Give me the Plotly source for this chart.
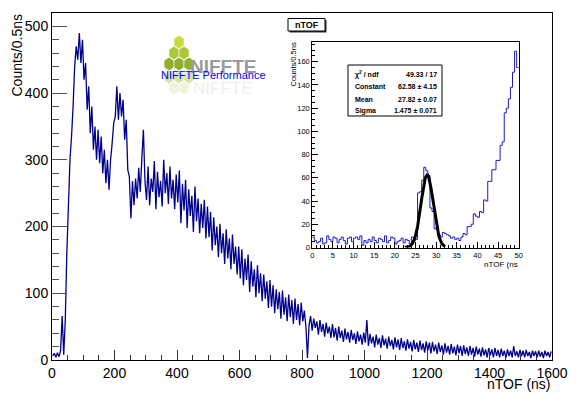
import plotly.graph_objects as go
import numpy as np

# main spectrum, counts per bin, one row per 100 ns (5 ns steps)
main_counts = [
    6, 10, 4, 11, 5, 14, 66, 8, 60, 160, 230, 300, 335, 380, 440, 470, 450, 490, 445, 480,
    420, 445, 375, 410, 340, 380, 315, 350, 300, 345, 295, 335, 280, 315, 265, 300, 255, 300, 325, 355,
    365, 410, 360, 400, 365, 390, 330, 360, 285, 275, 212, 268, 232, 272, 242, 288, 252, 302, 345, 268,
    240, 290, 232, 272, 252, 298, 226, 282, 244, 268, 230, 300, 250, 280, 234, 290, 242, 270, 226, 278,
    236, 284, 205, 264, 224, 270, 198, 256, 216, 246, 192, 260, 208, 242, 190, 234, 198, 240, 182, 230,
    184, 222, 164, 214, 172, 200, 154, 204, 160, 190, 144, 196, 152, 182, 136, 188, 144, 170, 128, 170,
    122, 166, 112, 152, 120, 158, 102, 148, 110, 136, 94, 142, 100, 130, 88, 128, 92, 118, 78, 120,
    80, 112, 70, 106, 76, 102, 62, 104, 68, 94, 58, 98, 64, 90, 54, 92, 60, 84, 52, 86,
    58, 74, 50, 3, 52, 66, 44, 62, 48, 58, 38, 60, 42, 54, 35, 56, 40, 50, 33, 54,
    34, 48, 29, 50, 33, 44, 27, 47, 31, 42, 26, 45, 30, 40, 24, 43, 28, 38, 23, 41,
    26, 60, 21, 39, 25, 35, 19, 38, 23, 33, 18, 37, 22, 32, 17, 35, 21, 30, 16, 34,
    19, 31, 15, 33, 18, 28, 14, 31, 17, 27, 13, 30, 16, 26, 12, 29, 15, 25, 11, 28,
    14, 26, 10, 27, 13, 23, 9, 26, 12, 22, 8, 25, 11, 21, 8, 24, 10, 20, 7, 23,
    10, 21, 6, 22, 9, 19, 6, 21, 8, 18, 5, 20, 8, 17, 5, 19, 7, 16, 4, 18,
    7, 16, 4, 18, 6, 15, 4, 17, 6, 14, 3, 16, 6, 14, 4, 21, 6, 13, 4, 15,
    6, 14, 4, 15, 6, 12, 3, 14, 6, 13, 4, 14, 5, 12, 3, 14, 6, 12, 4, 13,
]
main_step = 5

# inset: first 50 ns, 0.5 ns bins
inset_counts = [
    9, 6, 4, 5, 8, 3, 4, 10, 7, 5, 9, 8, 4, 7, 9, 6, 3, 8, 9, 5,
    8, 9, 7, 10, 2, 6, 4, 7, 5, 9, 6, 4, 8, 7, 5, 10, 4, 6, 9, 8,
    3, 5, 6, 8, 4, 7, 6, 3, 9, 6, 7, 47, 48, 58, 69, 66, 62, 34, 31, 16,
    18, 11, 9, 13, 12, 11, 10, 8, 9, 7, 8, 6, 9, 12, 11, 18, 18, 20, 29, 27,
    26, 31, 30, 41, 40, 57, 57, 67, 67, 75, 75, 88, 91, 116, 120, 128, 138, 151, 169, 155,
]
inset_step = 0.5

# gaussian fit shown in the stats box
fit_const, fit_mean, fit_sigma = 62.58, 27.82, 1.475
fit_lo, fit_hi = 22.4, 32.2
stats_rows = [("\u03c7<sup>2</sup> / ndf", "49.33 / 17"),
              ("Constant", "62.58 \u00b1 4.15"),
              ("Mean", "27.82 \u00b1 0.07"),
              ("Sigma", "1.475 \u00b1 0.071")]

# the page body has an 8 px margin, so the figure is 8 px smaller on each axis
W, H = 573, 391
L, R, T, B = 44, 29, 5, 39


def px(x):
    # screen pixel -> paper fraction (plot area is 52..552 on screen)
    return (x - 52) / 500


def py(y):
    return (360 - y) / 347


fig = go.Figure()

mx = [i * main_step + main_step / 2 for i in range(len(main_counts))]
fig.add_trace(go.Scatter(x=mx, y=main_counts, mode="lines",
                         line=dict(color="#00008f", width=1.3, simplify=False), hoverinfo="none"))

ix = [i * inset_step for i in range(len(inset_counts) + 1)]
iy = list(inset_counts) + [inset_counts[-1]]
fig.add_trace(go.Scatter(x=ix, y=iy, mode="lines", line_shape="hv",
                         line=dict(color="#1a1ad0", width=1, simplify=False), hoverinfo="none",
                         xaxis="x2", yaxis="y2"))

xf = np.linspace(fit_lo, fit_hi, 120)
yf = fit_const * np.exp(-0.5 * ((xf - fit_mean) / fit_sigma) ** 2)
fig.add_trace(go.Scatter(x=xf, y=yf, mode="lines", line=dict(color="black", width=3),
                         hoverinfo="none", xaxis="x2", yaxis="y2"))

axfont = dict(family="Liberation Sans, Arial", size=14, color="black")
smfont = dict(family="Liberation Sans, Arial", size=7.5, color="black")

fig.update_layout(
    width=W, height=H, showlegend=False,
    margin=dict(l=L, r=R, t=T, b=B, pad=0),
    paper_bgcolor="white", plot_bgcolor="white",
    xaxis=dict(range=[0, 1600], tickvals=list(range(0, 1601, 200)), automargin=False,
               ticks="inside", ticklen=10, tickcolor="#333", showline=True, linecolor="black",
               mirror=True, showgrid=False, zeroline=False, tickfont=axfont,
               minor=dict(dtick=50, ticks="inside", ticklen=5, tickcolor="#333")),
    yaxis=dict(range=[0, 520], tickvals=list(range(0, 501, 100)), automargin=False,
               ticks="inside", ticklen=15, tickcolor="#555", showline=True, linecolor="black",
               mirror=True, showgrid=False, zeroline=False, tickfont=axfont,
               minor=dict(dtick=20, ticks="inside", ticklen=7, tickcolor="#555")),
    xaxis2=dict(domain=[px(312.3), px(518.7)], anchor="y2", range=[0, 50],
                tickvals=list(range(0, 51, 5)), ticks="inside", ticklen=6, tickcolor="black",
                showline=True, linecolor="black", mirror=True, showgrid=False, zeroline=False,
                tickfont=smfont,
                minor=dict(dtick=1, ticks="inside", ticklen=3, tickcolor="black")),
    yaxis2=dict(domain=[py(247.5), py(42)], anchor="x2", range=[0, 177],
                tickvals=list(range(0, 161, 20)), ticks="inside", ticklen=6, tickcolor="black",
                showline=True, linecolor="black", mirror=True, showgrid=False, zeroline=False,
                tickfont=smfont,
                minor=dict(dtick=5, ticks="inside", ticklen=3, tickcolor="black")),
)

shapes = []
ann = []


def note(text, x, y, xa="center", ya="middle", size=8, color="black", angle=0,
         family="Liberation Sans, Arial"):
    ann.append(dict(text=text, x=px(x), y=py(y), xref="paper", yref="paper",
                    xanchor=xa, yanchor=ya, showarrow=False, textangle=angle,
                    font=dict(family=family, size=size, color=color)))


def box(x0, y0, x1, y1, fill="white", line="black", width=1):
    shapes.append(dict(type="rect", xref="paper", yref="paper", x0=px(x0), x1=px(x1),
                       y0=py(y1), y1=py(y0), fillcolor=fill,
                       line=dict(color=line, width=width)))


# axis titles
note("Counts/0.5ns", 17, 12, ya="top", size=14, angle=-90)
note("nTOF (ns)", 553, 384, xa="right", size=14)
note("Counts/0.5ns", 293.5, 41, ya="top", size=7.5, angle=-90)
note("nTOF (ns", 520, 264, xa="right", size=8)

# inset title box with its shadow
box(289.5, 20, 326.5, 32.5, fill="#333", line="#333", width=0)
box(288, 18.5, 325, 31)
note("<b>nTOF</b>", 306.5, 24.8, size=9)

# stats box
box(348, 65, 442, 116)
row_y = [74, 86.5, 99, 111]
for (lab, val), yy in zip(stats_rows, row_y):
    note("<b>" + lab + "</b>", 353, yy, xa="left", size=7)
    note("<b>" + val + "</b>", 439, yy, xa="right", size=7)


# logo: pyramid of green hexagons with a faded reflection
def hexagon(cx, cy, hw=5.0, hh=6.8):
    pts = [(cx, cy - hh), (cx + hw, cy - hh / 2), (cx + hw, cy + hh / 2),
           (cx, cy + hh), (cx - hw, cy + hh / 2), (cx - hw, cy - hh / 2)]
    return "M " + " L ".join("%.5f,%.5f" % (px(a), py(b)) for a, b in pts) + " Z"


hex_rows = [([179], 42, "#c4dc3c"), ([174, 184], 53, "#a9c835"), ([169, 179, 189], 64, "#8fb02c"),
            ([169, 179, 189], 77, "#d5e3a6"), ([174, 184], 88, "#eef3dc")]
for xs, yy, col in hex_rows:
    for xx in xs:
        shapes.append(dict(type="path", xref="paper", yref="paper", path=hexagon(xx, yy),
                           fillcolor=col, line=dict(color="white", width=0.6)))

note("NIFFTE", 223, 88, size=17, color="#efefef",
     family="Liberation Sans Narrow, Liberation Sans")
note("<b>NIFFTE</b>", 223, 67, size=19, color="#9a9a9a",
     family="Liberation Sans Narrow, Liberation Sans")
note("NIFFTE Performance", 159, 75, xa="left", size=11, color="#0000ff")

fig.update_layout(shapes=shapes, annotations=ann)
fig.write_html("out.html")
